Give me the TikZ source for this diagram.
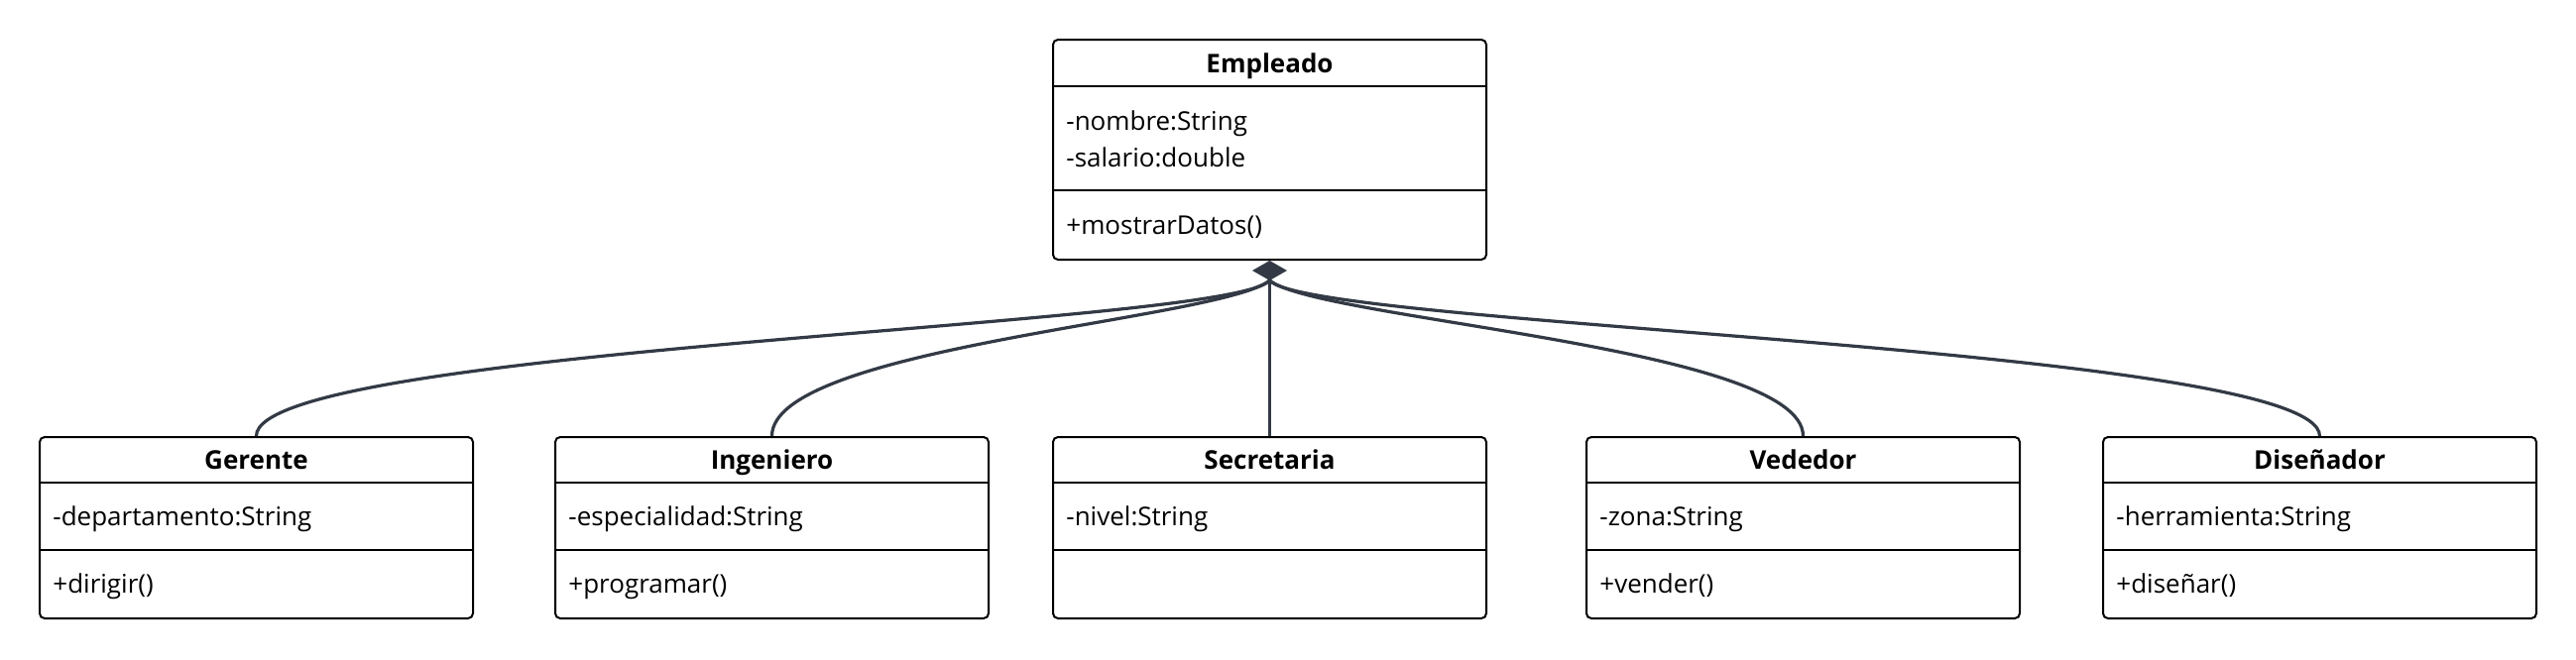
\documentclass[tikz,border=0pt]{standalone}
\usepackage{fontspec}
\setmainfont{Open Sans}
\usetikzlibrary{arrows.meta}
\definecolor{linkgray}{HTML}{333A45}

\begin{document}
\begin{tikzpicture}[x=0.5pt,y=-0.5pt,
  classbox/.style={draw,line width=1pt,rounded corners=2.5pt,minimum width=218.5pt,inner sep=0pt},
  ttl/.style={font=\fontsize{13}{15}\selectfont\bfseries,anchor=base,inner sep=0pt},
  txt/.style={font=\fontsize{13}{15}\selectfont,anchor=base west,inner sep=0pt},
  sep/.style={line width=1pt},
  link/.style={draw=linkgray,line width=1.6pt}]
  \useasboundingbox (0,0) rectangle (2598,665);

  % Superclass
  \node[classbox,minimum height=111pt] (emp) at (1280.5,151) {};
  \draw[sep] ([yshift=-24pt]emp.north west) -- ([yshift=-24pt]emp.north east);
  \draw[sep] ([yshift=-76.5pt]emp.north west) -- ([yshift=-76.5pt]emp.north east);
  \node[ttl] (emp-t) at (1280.5,73) {Empleado};
  \node[txt] (emp-a1) at (1075,131.5) {-nombre:String};
  \node[txt] (emp-a2) at (1075,168) {-salario:double};
  \node[txt] (emp-m) at (1075,236) {+mostrarDatos()};

  % Subclasses
  \node[classbox,minimum height=91.5pt] (ger) at (258.5,532.5) {};
  \draw[sep] ([yshift=-23.5pt]ger.north west) -- ([yshift=-23.5pt]ger.north east);
  \draw[sep] ([yshift=-57.5pt]ger.north west) -- ([yshift=-57.5pt]ger.north east);
  \node[ttl] (ger-t) at (258.5,473) {Gerente};
  \node[txt] (ger-a) at (53,530.5) {-departamento:String};
  \node[txt] (ger-m) at (53,598) {+dirigir()};

  \node[classbox,minimum height=91.5pt] (ing) at (778.5,532.5) {};
  \draw[sep] ([yshift=-23.5pt]ing.north west) -- ([yshift=-23.5pt]ing.north east);
  \draw[sep] ([yshift=-57.5pt]ing.north west) -- ([yshift=-57.5pt]ing.north east);
  \node[ttl] (ing-t) at (778.5,473) {Ingeniero};
  \node[txt] (ing-a) at (573,530.5) {-especialidad:String};
  \node[txt] (ing-m) at (573,598) {+programar()};

  \node[classbox,minimum height=91.5pt] (sec) at (1280.5,532.5) {};
  \draw[sep] ([yshift=-23.5pt]sec.north west) -- ([yshift=-23.5pt]sec.north east);
  \draw[sep] ([yshift=-57.5pt]sec.north west) -- ([yshift=-57.5pt]sec.north east);
  \node[ttl] (sec-t) at (1280.5,473) {Secretaria};
  \node[txt] (sec-a) at (1075,530.5) {-nivel:String};

  \node[classbox,minimum height=91.5pt] (ved) at (1818.5,532.5) {};
  \draw[sep] ([yshift=-23.5pt]ved.north west) -- ([yshift=-23.5pt]ved.north east);
  \draw[sep] ([yshift=-57.5pt]ved.north west) -- ([yshift=-57.5pt]ved.north east);
  \node[ttl] (ved-t) at (1818.5,473) {Vededor};
  \node[txt] (ved-a) at (1613,530.5) {-zona:String};
  \node[txt] (ved-m) at (1613,598) {+vender()};

  \node[classbox,minimum height=91.5pt] (dis) at (2339.5,532.5) {};
  \draw[sep] ([yshift=-23.5pt]dis.north west) -- ([yshift=-23.5pt]dis.north east);
  \draw[sep] ([yshift=-57.5pt]dis.north west) -- ([yshift=-57.5pt]dis.north east);
  \node[ttl] (dis-t) at (2339.5,473) {Diseñador};
  \node[txt] (dis-a) at (2134,530.5) {-herramienta:String};
  \node[txt] (dis-m) at (2134,598) {+diseñar()};

  % Inheritance links
  \coordinate (dia) at ([yshift=-10pt]emp.south);
  \draw[link,-{Diamond[length=10pt,width=17.5pt]}] (sec.north) -- (emp.south);
  \draw[link] (ger.north) .. controls +(0,-90) and +(-40,47) .. (dia);
  \draw[link] (ing.north) .. controls +(0,-90) and +(-50,40) .. (dia);
  \draw[link] (ved.north) .. controls +(0,-90) and +(50,40) .. (dia);
  \draw[link] (dis.north) .. controls +(0,-90) and +(40,47) .. (dia);
\end{tikzpicture}
\end{document}
